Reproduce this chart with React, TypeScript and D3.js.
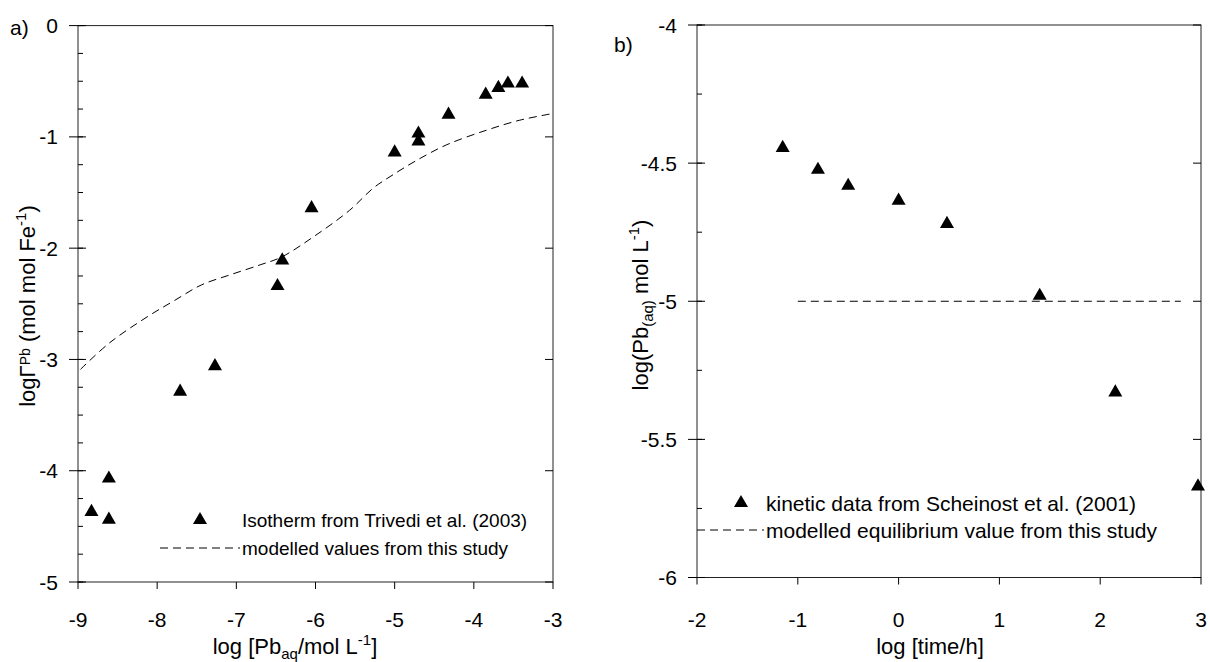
import React from "react";
import * as d3 from "d3";

// Panel a data
const isoX = [-8.83, -8.61, -8.61, -7.71, -7.27, -6.48, -6.42, -6.05, -5.0, -4.7, -4.7, -4.32, -3.85, -3.69, -3.57, -3.39];
const isoY = [-4.37, -4.44, -4.07, -3.29, -3.06, -2.34, -2.11, -1.64, -1.14, -1.04, -0.97, -0.8, -0.62, -0.56, -0.52, -0.52];
const modelX = [-8.97, -8.6, -8.11, -7.78, -7.44, -7.08, -6.7, -6.43, -6.03, -5.57, -5.27, -5.02, -4.72, -4.34, -3.84, -3.42, -3.0];
const modelY = [-3.09, -2.85, -2.61, -2.47, -2.33, -2.24, -2.15, -2.08, -1.9, -1.66, -1.46, -1.34, -1.21, -1.07, -0.94, -0.85, -0.79];
const aXTicks = [-9, -8, -7, -6, -5, -4, -3];
const aYTicks = [0, -1, -2, -3, -4, -5];

// Panel b data
const kinT = [-1.15, -0.8, -0.5, 0, 0.48, 1.4, 2.15, 2.97];
const kinPb = [-4.445, -4.524, -4.582, -4.636, -4.72, -4.98, -5.33, -5.67];
const eqT = [-1.0, 2.8];
const eqPb = [-5.0, -5.0];
const bXTicks = [-2, -1, 0, 1, 2, 3];
const bYTicks = [-4, -4.5, -5, -5.5, -6];

const FONT = "'Liberation Sans', Arial, sans-serif";
const TICK_FS = 21;
const TITLE_FS = 22;
const tri = d3.symbol().type(d3.symbolTriangle).size(85)() as string;

type PanelProps = {
  x: d3.ScaleLinear<number, number>;
  y: d3.ScaleLinear<number, number>;
  xTicks: number[];
  yTicks: number[];
  minorStep: number;
};

function Frame({ x, y, xTicks, yTicks, minorStep }: PanelProps) {
  const [x0, x1] = x.range();
  const [y0, y1] = y.range(); // y0 bottom, y1 top
  const yd = y.domain();
  const lo = Math.min(yd[0], yd[1]);
  const hi = Math.max(yd[0], yd[1]);
  const minors: number[] = [];
  for (let v = lo; v <= hi + 1e-9; v += minorStep) minors.push(+v.toFixed(4));
  return (
    <g stroke="#000" fill="none" strokeWidth={1}>
      <rect x={x0} y={y1} width={x1 - x0} height={y0 - y1} stroke="#222" />
      {minors.map((v) => (
        <line key={"m" + v} x1={x0} x2={x0 + 5} y1={y(v)} y2={y(v)} />
      ))}
      {yTicks.map((v) => (
        <g key={"y" + v}>
          <line x1={x0 - 9} x2={x0 + 8} y1={y(v)} y2={y(v)} />
          <line x1={x1 - 8} x2={x1} y1={y(v)} y2={y(v)} />
          <text x={x0 - 20} y={y(v)} dy="0.36em" textAnchor="end" stroke="none" fill="#000" fontSize={TICK_FS} fontFamily={FONT}>
            {String(v)}
          </text>
        </g>
      ))}
      {xTicks.map((v) => (
        <g key={"x" + v}>
          <line x1={x(v)} x2={x(v)} y1={y0} y2={y0 + 7} />
          <text x={x(v)} y={627} textAnchor="middle" stroke="none" fill="#000" fontSize={TICK_FS} fontFamily={FONT}>
            {String(v)}
          </text>
        </g>
      ))}
    </g>
  );
}

export default function App() {
  const ax = d3.scaleLinear().domain([-9, -3]).range([78, 553]);
  const ay = d3.scaleLinear().domain([-5, 0]).range([582, 25.6]);
  const bx = d3.scaleLinear().domain([-2, 3]).range([697, 1201]);
  const by = d3.scaleLinear().domain([-6, -4]).range([577.5, 25]);

  const modelLine = d3
    .line<number>()
    .x((_, i) => ax(modelX[i]))
    .y((_, i) => ay(modelY[i]))
    .curve(d3.curveCatmullRom)(modelX) as string;
  const eqLine = d3
    .line<number>()
    .x((_, i) => bx(eqT[i]))
    .y((_, i) => by(eqPb[i]))(eqT) as string;

  return (
    <svg width={1210} height={662} style={{ position: "absolute", left: 0, top: 0, background: "#fff" }} fontFamily={FONT}>
      <rect width={1210} height={662} fill="#fff" />
      {/* Panel a */}
      <text x={10} y={35} fontSize={TICK_FS}>a)</text>
      <Frame x={ax} y={ay} xTicks={aXTicks} yTicks={aYTicks} minorStep={0.25} />
      <path d={modelLine} fill="none" stroke="#000" strokeWidth={1} strokeDasharray="8,5" />
      {isoX.map((v, i) => (
        <path key={i} d={tri} transform={`translate(${ax(v)},${ay(isoY[i])})`} fill="#000" />
      ))}
      <path d={tri} transform="translate(200,520)" fill="#000" />
      <text x={242} y={520} dy="0.36em" fontSize={19}>Isotherm from Trivedi et al. (2003)</text>
      <line x1={160} x2={240} y1={548} y2={548} stroke="#000" strokeDasharray="8,5" />
      <text x={242} y={548} dy="0.36em" fontSize={19}>modelled values from this study</text>
      <text x={295} y={654} textAnchor="middle" fontSize={TITLE_FS}>
        log [Pb<tspan fontSize={15} dy={5}>aq</tspan>
        <tspan dy={-5}>/mol L</tspan>
        <tspan fontSize={15} dy={-9}>-1</tspan>
        <tspan dy={9}>]</tspan>
      </text>
      <text transform="translate(35,306) rotate(-90)" textAnchor="middle" fontSize={TITLE_FS}>
        logΓ<tspan fontSize={14} dy={-5}>Pb</tspan>
        <tspan dy={5}> (mol mol Fe</tspan>
        <tspan fontSize={15} dy={-9}>-1</tspan>
        <tspan dy={9}>)</tspan>
      </text>

      {/* Panel b */}
      <text x={614} y={52} fontSize={TICK_FS}>b)</text>
      <Frame x={bx} y={by} xTicks={bXTicks} yTicks={bYTicks} minorStep={0.25} />
      <path d={eqLine} fill="none" stroke="#000" strokeWidth={1} strokeDasharray="8,5" />
      {kinT.map((v, i) => (
        <path key={i} d={tri} transform={`translate(${bx(v)},${by(kinPb[i])})`} fill="#000" />
      ))}
      <path d={tri} transform="translate(741,503)" fill="#000" />
      <text x={766} y={503} dy="0.36em" fontSize={21}>kinetic data from Scheinost et al. (2001)</text>
      <line x1={697} x2={764} y1={530} y2={530} stroke="#000" strokeDasharray="8,5" />
      <text x={766} y={530} dy="0.36em" fontSize={21}>modelled equilibrium value from this study</text>
      <text x={930} y={654} textAnchor="middle" fontSize={TITLE_FS}>log [time/h]</text>
      <text transform="translate(648,305) rotate(-90)" textAnchor="middle" fontSize={TITLE_FS}>
        log(Pb<tspan fontSize={15} dy={5}>(aq)</tspan>
        <tspan dy={-5}> mol L</tspan>
        <tspan fontSize={15} dy={-9}>-1</tspan>
        <tspan dy={9}>)</tspan>
      </text>
    </svg>
  );
}
